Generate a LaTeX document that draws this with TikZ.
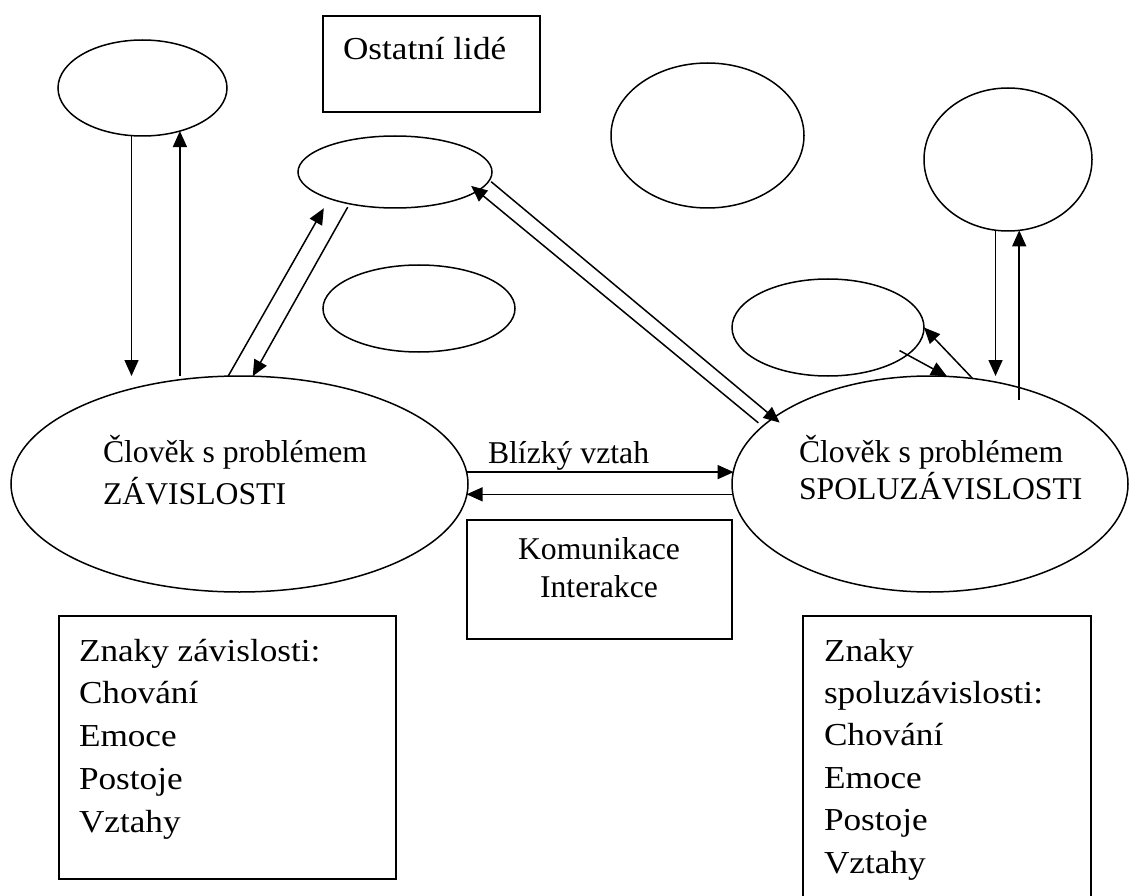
\documentclass[tikz,border=0pt]{standalone}
\usepackage{fontspec}
\usetikzlibrary{shapes.geometric,arrows.meta}
\newfontfamily\timesfont{Liberation Serif}
\newfontfamily\bookfont[FakeStretch=1.1]{Liberation Serif}
% stacked lines with a fixed baseline distance; the first line carries the baseline
\newcommand\rowsL[1]{\vtop{\lineskiplimit=-\maxdimen\halign{##\hfil\cr#1\crcr}}}
\newcommand\rowsC[1]{\vtop{\lineskiplimit=-\maxdimen\halign{\hfil##\hfil\cr#1\crcr}}}
\tikzset{
  oval/.style={ellipse, draw, line width=1.5pt, inner sep=0pt, outer sep=0pt},
  frame/.style={rectangle, draw, line width=1.7pt, inner sep=0pt, outer sep=0pt, anchor=north west},
  arr/.style={line width=1.5pt, -{Triangle[length=16pt,width=14pt]}},
  serif/.style={inner sep=0pt, outer sep=0pt, anchor=base west,
    font=\timesfont\fontsize{31.7}{#1}\selectfont},
  serif/.default=42,
  book/.style={inner sep=0pt, outer sep=0pt, anchor=base west,
    font=\bookfont\fontsize{32}{#1}\selectfont},
  book/.default=42.7,
}
\begin{document}
\begin{tikzpicture}[x=1pt,y=-1pt]
\useasboundingbox (0,0) rectangle (1133,896);
\fill[white] (0,0) rectangle (1133,896);
\clip (0,0) rectangle (1133,896);

% ovals
\node[oval, minimum width=169pt, minimum height=96pt]  (tl)       at (142.5,88)   {};
\node[oval, minimum width=194pt, minimum height=72pt]  (upperMid) at (395,172)    {};
\node[oval, minimum width=192pt, minimum height=87pt]  (lowerMid) at (419,308.5)  {};
\node[oval, minimum width=193pt, minimum height=145pt] (roundTop) at (707.5,135.5){};
\node[oval, minimum width=168pt, minimum height=143pt] (tr)       at (1008,159.5) {};
\node[oval, minimum width=192pt, minimum height=97pt]  (smallR)   at (828,327.5)  {};
\node[oval, minimum width=457pt, minimum height=216pt] (bigL)     at (239.5,484)  {};
\node[oval, minimum width=396pt, minimum height=216pt] (bigR)     at (930,484)    {};

% frames
\node[frame, minimum width=217pt, minimum height=96pt]  (othersBox) at (323,16)  {};
\node[frame, minimum width=265pt, minimum height=119pt] (talkBox)   at (467,520) {};
\node[frame, minimum width=337pt, minimum height=263pt] (depBox)    at (59,616)  {};
\node[frame, minimum width=288pt, minimum height=300pt] (codepBox)  at (803,616) {};

% texts
\node[book] (othersTxt) at (343,60) {Ostatní lidé};
\node[serif] (depTxt) at (103,462) {\rowsL{Člověk s problémem\cr ZÁVISLOSTI}};
\node[serif=37.5] (codepTxt) at (799,462) {\rowsL{Člověk s problémem\cr SPOLUZÁVISLOSTI}};
\node[serif] (closeTxt) at (488,463) {Blízký vztah};
\node[serif=38, anchor=base] (talkTxt) at (599,559) {\rowsC{Komunikace\cr Interakce}};
\node[book=42.75] (depList) at (79,661)
  {\rowsL{Znaky závislosti:\cr Chování\cr Emoce\cr Postoje\cr Vztahy}};
\node[book=42.4] (codepList) at (824,661)
  {\rowsL{Znaky\cr spoluzávislosti:\cr Chování\cr Emoce\cr Postoje\cr Vztahy}};

% left vertical pair
\draw[arr] (tl.-103.6) -- (tl.-103.6 |- bigL.north);
\draw[arr] (tl.-49.9 |- bigL.north) -- (tl.-49.9);

% left diagonal pair
\draw[arr, shorten >=11.25pt] (bigL.96.35) -- (upperMid.-158.47);
\draw[arr, shorten <=3.85pt] (upperMid.-145.57) -- (bigL.83.4);

% long diagonal pair
\draw[arr, shorten <=2.3pt, shorten >=-7.7pt] (upperMid.-5.16) -- (bigR.157.2);
\draw[arr, shorten <=5.5pt, shorten >=-8.05pt] (bigR.161.9) -- (upperMid.-13.15);

% close relationship
\draw[arr] (bigL.3.02) -- (bigL.3.02 -| bigR.176.5);
\draw[arr] (bigR.183.5) -- (bigR.183.5 -| bigL.-3.02);

% small pair on the right
\draw[arr] (bigR.68.3) -- (smallR.east);
\draw[arr, shorten <=-8.9pt] (smallR.-19.28) -- (bigR.81.0);

% right vertical pair
\draw[arr] (tr.-100.4) -- (tr.-100.4 |- bigR.north);
\draw[arr, shorten <=-24pt] (tr.-81.2 |- bigR.north) -- (tr.-81.2);
\end{tikzpicture}
\end{document}
